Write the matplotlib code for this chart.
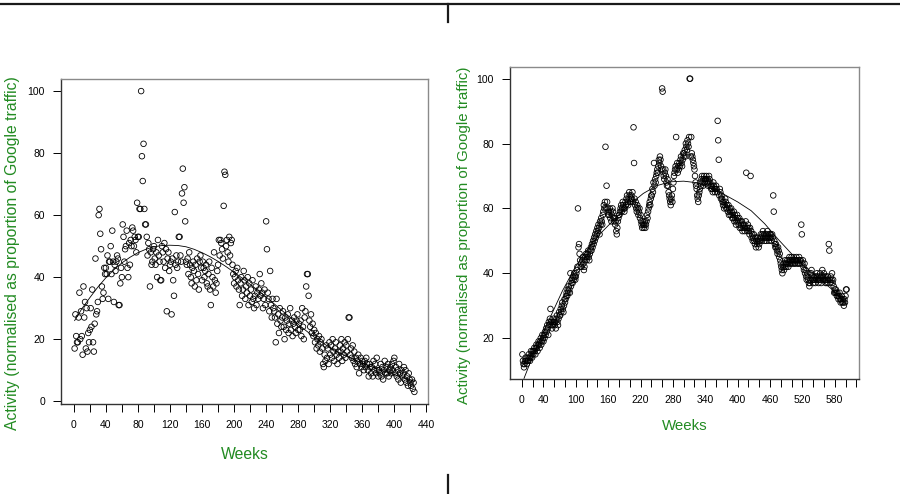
import numpy as np
import matplotlib
matplotlib.use('Agg')
import matplotlib.pyplot as plt
from matplotlib.lines import Line2D

plt.rcParams['font.family'] = ['Liberation Sans', 'DejaVu Sans']

# ============================================================
# Data (weekly activity)
# ============================================================
left_vals = [
    17, 28, 21, 19, 19, 27, 35, 20, 29, 21,
    15, 37, 27, 32, 17, 30, 16, 22, 19, 23,
    30, 24, 36, 19, 16, 25, 46, 28, 29, 32,
    60, 62, 54, 49, 37, 33, 35, 43, 41, 43,
    41, 47, 33, 45, 45, 50, 41, 55, 45, 32,
    44, 42, 45, 47, 46, 31, 31, 38, 43, 40,
    57, 53, 45, 49, 50, 55, 43, 40, 51, 44,
    52, 50, 56, 55, 50, 53, 52, 48, 64, 53,
    53, 62, 62, 100, 79, 71, 83, 62, 57, 57,
    53, 47, 51, 49, 37, 48, 44, 45, 49, 50,
    46, 44, 48, 40, 52, 47, 45, 39, 39, 50,
    48, 45, 51, 43, 49, 29, 46, 48, 42, 44,
    45, 28, 46, 39, 34, 61, 44, 47, 43, 45,
    53, 53, 47, 45, 67, 75, 64, 69, 58, 45,
    44, 46, 41, 48, 44, 40, 38, 43, 45, 42,
    37, 44, 39, 46, 41, 36, 45, 47, 43, 39,
    45, 43, 40, 42, 44, 38, 37, 41, 45, 36,
    31, 43, 40, 37, 48, 39, 35, 38, 42, 44,
    52, 47, 52, 51, 49, 46, 63, 74, 73, 50,
    52, 48, 45, 53, 47, 51, 52, 44, 41, 38,
    40, 42, 37, 43, 39, 36, 31, 38, 40, 34,
    36, 42, 39, 33, 37, 35, 40, 31, 38, 34,
    36, 32, 39, 33, 30, 34, 37, 31, 35, 33,
    36, 41, 34, 38, 35, 30, 33, 36, 31, 58,
    49, 35, 33, 29, 42, 31, 27, 33, 30, 29,
    27, 19, 33, 25, 28, 22, 30, 26, 24, 27,
    29, 24, 20, 27, 23, 26, 28, 22, 25, 30,
    23, 26, 21, 25, 27, 24, 22, 26, 28, 23,
    25, 23, 26, 21, 30, 24, 20, 27, 29, 37,
    41, 41, 34, 26, 24, 28, 22, 25, 21, 23,
    19, 22, 17, 20, 18, 21, 16, 19, 20, 17,
    12, 11, 15, 13, 18, 14, 17, 12, 19, 15,
    18, 14, 20, 16, 13, 17, 19, 15, 12, 16,
    14, 18, 16, 20, 13, 17, 15, 19, 14, 18,
    16, 20, 27, 27, 15, 17, 14, 18, 13, 16,
    12, 14, 11, 13, 15, 9, 12, 14, 11, 13,
    12, 10, 13, 11, 14, 12, 10, 8, 12, 11,
    9, 11, 8, 13, 10, 12, 9, 14, 10, 8,
    10, 9, 12, 8, 11, 7, 10, 13, 9, 11,
    9, 12, 8, 10, 11, 9, 12, 10, 13, 14,
    9, 11, 8, 10, 7, 12, 9, 6, 10, 8,
    9, 11, 7, 10, 6, 8, 5, 9, 7, 6,
    5, 7, 4, 6, 3,
]
left_weeks = list(range(1, len(left_vals) + 1))

# smoothed trend line, left panel
left_fit_weeks = [1, 10, 20, 30, 40, 50, 60, 70, 80, 90, 100, 110, 120, 130,
                  140, 150, 160, 170, 180, 190, 200, 210, 220, 230, 240, 250,
                  260, 270, 280, 290, 300, 310, 320, 340, 360, 380, 400, 425]
left_fit_vals = [26, 29.8, 33.4, 36.8, 39.8, 42.4, 44.6, 46.4, 47.9, 49.0, 49.8,
                 50.2, 50.3, 50.2, 49.8, 49.0, 47.9, 46.6, 45.1, 43.4, 41.6,
                 39.7, 37.7, 35.7, 33.6, 31.4, 29.2, 27.0, 24.8, 22.7, 20.7,
                 18.9, 17.2, 14.5, 12.2, 10.3, 8.6, 6.4]

right_vals = [
    15, 13, 12, 11, 12, 13, 14, 13, 12, 13,
    14, 13, 15, 14, 13, 14, 16, 15, 14, 16,
    15, 16, 17, 16, 15, 17, 18, 17, 16, 18,
    19, 18, 17, 19, 20, 18, 19, 21, 20, 19,
    21, 20, 22, 21, 23, 22, 24, 23, 21, 25,
    24, 26, 29, 25, 24, 23, 25, 24, 26, 25,
    24, 25, 23, 26, 27, 25, 24, 26, 28, 27,
    27, 29, 28, 30, 31, 29, 28, 30, 32, 31,
    32, 33, 34, 33, 35, 34, 36, 35, 34, 40,
    36, 37, 38, 37, 39, 38, 40, 39, 38, 39,
    40, 41, 42, 60, 48, 49, 46, 44, 42, 43,
    42, 44, 45, 43, 41, 42, 44, 45, 46, 44,
    45, 46, 47, 45, 44, 46, 47, 48, 47, 49,
    48, 50, 49, 51, 50, 52, 51, 53, 52, 54,
    53, 55, 54, 52, 56, 55, 57, 56, 55, 58,
    59, 61, 60, 62, 79, 60, 67, 62, 60, 58,
    59, 58, 60, 57, 59, 56, 58, 60, 59, 57,
    56, 57, 55, 56, 53, 52, 54, 56, 57, 58,
    58, 59, 60, 61, 59, 60, 62, 61, 60, 59,
    60, 62, 61, 63, 64, 62, 61, 63, 65, 64,
    62, 63, 64, 63, 65, 62, 85, 74, 63, 61,
    62, 60, 59, 61, 60, 58, 59, 60, 57, 58,
    56, 55, 54, 56, 55, 54, 55, 56, 54, 55,
    56, 58, 57, 59, 60, 61, 62, 61, 63, 64,
    64, 66, 65, 68, 74, 67, 69, 68, 70, 71,
    72, 71, 73, 75, 74, 76, 75, 73, 72, 97,
    96, 72, 70, 69, 71, 72, 70, 68, 67, 69,
    67, 65, 64, 63, 62, 61, 63, 64, 62, 66,
    68, 70, 71, 72, 73, 82, 72, 74, 71, 73,
    72, 74, 73, 75, 76, 74, 73, 75, 77, 76,
    77, 78, 76, 80, 79, 78, 81, 80, 79, 82,
    100, 100, 76, 82, 77, 76, 75, 74, 73, 72,
    70, 68, 67, 66, 64, 63, 62, 64, 65, 66,
    68, 67, 69, 70, 68, 67, 69, 70, 68, 69,
    69, 70, 68, 69, 67, 68, 70, 69, 68, 67,
    66, 67, 66, 65, 68, 67, 66, 65, 66, 67,
    66, 65, 87, 81, 75, 64, 66, 65, 63, 64,
    63, 62, 61, 62, 60, 61, 63, 62, 60, 61,
    60, 59, 61, 58, 60, 59, 58, 60, 59, 57,
    58, 57, 59, 56, 58, 57, 55, 56, 58, 57,
    56, 55, 57, 54, 56, 55, 54, 56, 53, 55,
    54, 55, 53, 54, 56, 71, 54, 53, 55, 54,
    53, 52, 54, 70, 53, 51, 52, 50, 51, 52,
    50, 49, 51, 48, 50, 49, 51, 50, 48, 49,
    50, 51, 52, 51, 50, 52, 53, 51, 52, 50,
    51, 52, 50, 51, 53, 52, 51, 50, 52, 51,
    52, 51, 50, 52, 51, 64, 59, 50, 49, 48,
    49, 48, 47, 46, 48, 47, 45, 46, 44, 43,
    42, 41, 40, 42, 43, 41, 42, 44, 43, 42,
    43, 44, 43, 42, 44, 45, 43, 44, 43, 45,
    44, 43, 44, 45, 43, 44, 43, 44, 45, 44,
    43, 44, 43, 45, 44, 43, 44, 55, 52, 43,
    44, 42, 41, 43, 40, 41, 39, 38, 40, 39,
    38, 37, 36, 37, 38, 40, 41, 39, 38, 37,
    38, 39, 38, 37, 39, 38, 40, 39, 38, 37,
    38, 39, 40, 38, 37, 39, 41, 39, 38, 40,
    39, 38, 37, 39, 38, 37, 39, 38, 49, 47,
    38, 37, 39, 38, 40, 37, 38, 36, 34, 35,
    34, 35, 34, 33, 34, 33, 32, 33, 34, 32,
    31, 32, 33, 31, 32, 31, 30, 32, 31, 33,
    35, 35,
]
right_weeks = list(range(1, len(right_vals) + 1))

right_fit_weeks = [4, 25, 50, 75, 100, 125, 150, 175, 200, 225, 250, 275, 300,
                   325, 350, 375, 400, 425, 450, 475, 500, 525, 550, 575, 602]
right_fit_vals = [7.6, 16.5, 25.5, 34.5, 42.2, 48.2, 53.0, 57.2, 61.2, 64.6,
                  67.0, 68.2, 68.4, 67.9, 66.2, 64.3, 62.0, 59.3, 55.3, 50.5,
                  46.0, 42.0, 38.6, 35.0, 30.5]

GREEN = '#228B22'
YLAB = 'Activity (normalised as proportion of Google traffic)'


def draw_panel(ax, weeks, vals, fit_w, fit_v, xlim, ylim, xticks, xlabels,
               yticks, lab_size, xlab_pad, ylab_xy):
    ax.scatter(weeks, vals, s=16, facecolors='none', edgecolors='black',
               linewidths=0.6, zorder=3)
    ax.plot(fit_w, fit_v, '-', color='black', linewidth=0.6, zorder=4)
    ax.set_xlim(*xlim)
    ax.set_ylim(*ylim)
    ax.set_xticks(xticks)
    ax.set_xticklabels(xlabels)
    ax.set_yticks(yticks)
    ax.tick_params(axis='both', direction='out', length=5.5, width=0.7,
                   labelsize=7.5, pad=6, colors='black')
    for side in ['top', 'right']:
        ax.spines[side].set_color('#8a8a8a')
    for side in ['left', 'bottom']:
        ax.spines[side].set_color('#333333')
    for sp in ax.spines.values():
        sp.set_linewidth(1.0)
    ax.set_xlabel('Weeks', color=GREEN, fontsize=lab_size, labelpad=xlab_pad)
    ax.set_ylabel(YLAB, color=GREEN, fontsize=lab_size)
    ax.yaxis.set_label_coords(*ylab_xy)


fig = plt.figure(figsize=(9, 4.94), dpi=100)

# left panel
ax1 = fig.add_axes([61 / 900, 1 - 404 / 494, 367 / 900, 325 / 494])
lt = list(range(0, 441, 20))
draw_panel(ax1, left_weeks, left_vals, left_fit_weeks, left_fit_vals,
           (-16, 442), (-0.9, 103.9), lt,
           [str(t) if t % 40 == 0 else '' for t in lt],
           [0, 20, 40, 60, 80, 100], 11.3, 12,
           ((20 - 61) / 367, (404 - 253) / 325))

# right panel
ax2 = fig.add_axes([510 / 900, 1 - 379 / 494, 349 / 900, 312 / 494])
rt = list(range(0, 621, 20))
shown = [0, 40, 100, 160, 220, 280, 340, 400, 460, 520, 580]
draw_panel(ax2, right_weeks, right_vals, right_fit_weeks, right_fit_vals,
           (-22, 625), (7.4, 103.6), rt,
           [str(t) if t in shown else '' for t in rt],
           [20, 40, 60, 80, 100], 10.8, 10,
           ((471 - 510) / 349, (379 - 235) / 312))

# page separators
fig.add_artist(Line2D([0, 1], [1 - 4 / 494, 1 - 4 / 494], color='#1a1a1a',
                      linewidth=1.6, transform=fig.transFigure))
fig.add_artist(Line2D([448 / 900, 448 / 900], [1 - 4 / 494, 1 - 22 / 494],
                      color='#1a1a1a', linewidth=1.6, transform=fig.transFigure))
fig.add_artist(Line2D([448 / 900, 448 / 900], [1 - 475 / 494, 0],
                      color='#1a1a1a', linewidth=1.6, transform=fig.transFigure))

fig.savefig('out.png', dpi=100)
plt.close()
